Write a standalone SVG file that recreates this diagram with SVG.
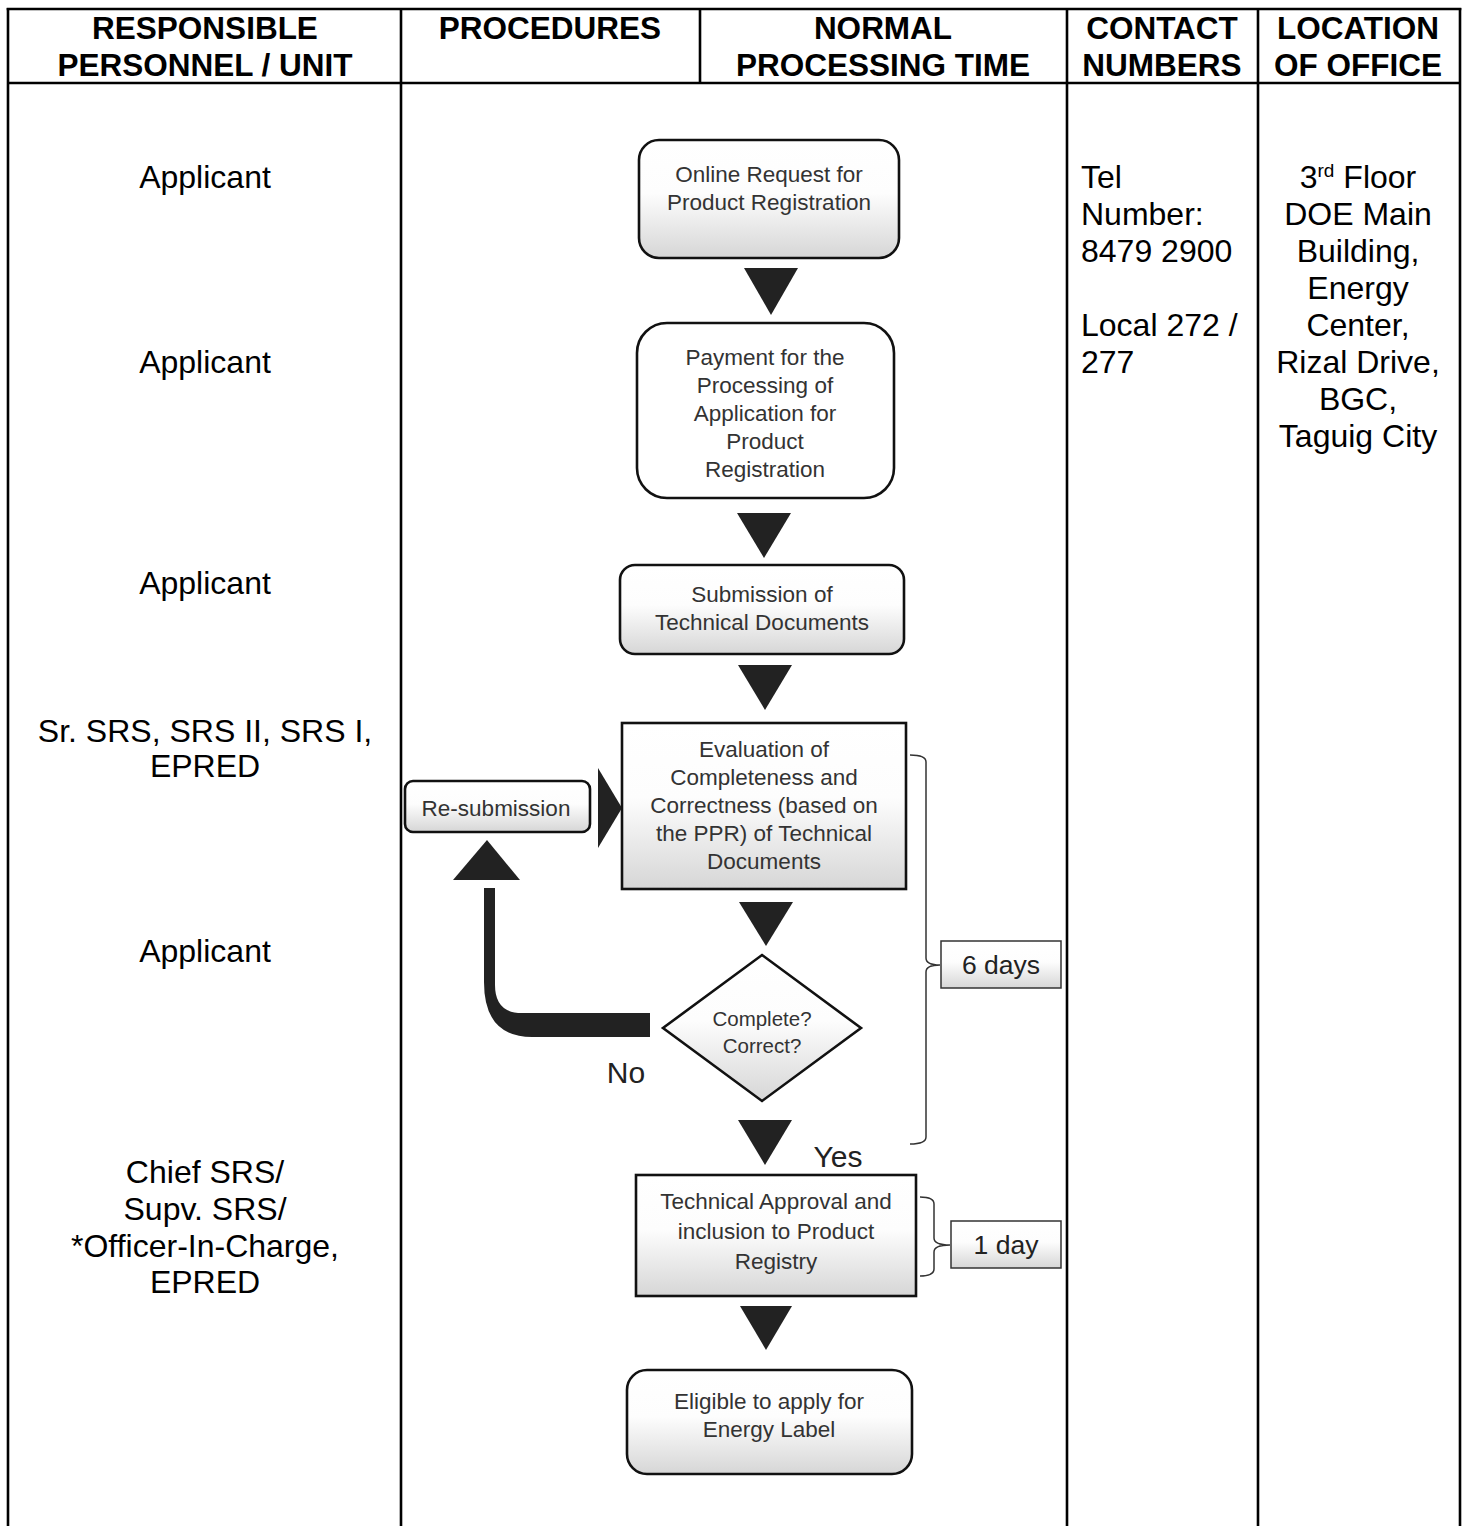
<svg xmlns="http://www.w3.org/2000/svg" width="1465" height="1526" viewBox="0 0 1465 1526">
<defs>
<linearGradient id="g" x1="0" y1="0" x2="0" y2="1">
<stop offset="0" stop-color="#ffffff"/>
<stop offset="0.45" stop-color="#fdfdfd"/>
<stop offset="1" stop-color="#d6d6d6"/>
</linearGradient>
</defs>
<style>
.grid{stroke:#000;stroke-width:2.6;fill:none}
.hd{font-family:"Liberation Sans",Arial,sans-serif;font-weight:bold;font-size:31.5px;fill:#000;text-anchor:middle}
.bd{font-family:"Liberation Sans",Arial,sans-serif;font-size:32px;fill:#000}
.mid{text-anchor:middle}
.box{fill:url(#g);stroke:#111;stroke-width:2.6}
.bt{font-family:"Liberation Sans",Arial,sans-serif;font-size:22.5px;fill:#333;text-anchor:middle}
.arr{fill:#222}
.brk{fill:none;stroke:#333;stroke-width:1.5}
.tbox{fill:url(#g);stroke:#333;stroke-width:1.5}
.tt{font-family:"Liberation Sans",Arial,sans-serif;font-size:26.5px;fill:#222;text-anchor:middle}
.lbl{font-family:"Liberation Sans",Arial,sans-serif;font-size:30px;fill:#222;text-anchor:middle}
</style>
<g id="table">
<line class="grid" x1="6.7" y1="9" x2="1461.3" y2="9"/>
<line class="grid" x1="8" y1="83" x2="1460" y2="83"/>
<line class="grid" x1="8" y1="8" x2="8" y2="1526"/>
<line class="grid" x1="401" y1="8" x2="401" y2="1526"/>
<line class="grid" x1="700" y1="8" x2="700" y2="83"/>
<line class="grid" x1="1067" y1="8" x2="1067" y2="1526"/>
<line class="grid" x1="1258" y1="8" x2="1258" y2="1526"/>
<line class="grid" x1="1460" y1="8" x2="1460" y2="1526"/>
</g>
<g id="headers">
<text class="hd" x="205" y="39">RESPONSIBLE</text>
<text class="hd" x="205" y="76">PERSONNEL / UNIT</text>
<text class="hd" x="550" y="39">PROCEDURES</text>
<text class="hd" x="883" y="39">NORMAL</text>
<text class="hd" x="883" y="76">PROCESSING TIME</text>
<text class="hd" x="1162" y="39">CONTACT</text>
<text class="hd" x="1162" y="76">NUMBERS</text>
<text class="hd" x="1358" y="39">LOCATION</text>
<text class="hd" x="1358" y="76">OF OFFICE</text>
</g>
<g id="personnel">
<text class="bd mid" x="205" y="188">Applicant</text>
<text class="bd mid" x="205" y="373">Applicant</text>
<text class="bd mid" x="205" y="594">Applicant</text>
<text class="bd mid" x="205" y="742">Sr. SRS, SRS II, SRS I,</text>
<text class="bd mid" x="205" y="777">EPRED</text>
<text class="bd mid" x="205" y="962">Applicant</text>
<text class="bd mid" x="205" y="1183">Chief SRS/</text>
<text class="bd mid" x="205" y="1220">Supv. SRS/</text>
<text class="bd mid" x="205" y="1257">*Officer-In-Charge,</text>
<text class="bd mid" x="205" y="1293">EPRED</text>
</g>
<g id="contact">
<text class="bd" x="1081" y="188">Tel</text>
<text class="bd" x="1081" y="225">Number:</text>
<text class="bd" x="1081" y="262">8479 2900</text>
<text class="bd" x="1081" y="336">Local 272 /</text>
<text class="bd" x="1081" y="373">277</text>
</g>
<g id="location">
<text class="bd mid" x="1358" y="188">3<tspan font-size="19" dy="-11">rd</tspan><tspan dy="11"> Floor</tspan></text>
<text class="bd mid" x="1358" y="225">DOE Main</text>
<text class="bd mid" x="1358" y="262">Building,</text>
<text class="bd mid" x="1358" y="299">Energy</text>
<text class="bd mid" x="1358" y="336">Center,</text>
<text class="bd mid" x="1358" y="373">Rizal Drive,</text>
<text class="bd mid" x="1358" y="410">BGC,</text>
<text class="bd mid" x="1358" y="447">Taguig City</text>
</g>
<g id="connectors">
<polygon class="arr" points="744,268 798,268 771,315"/>
<polygon class="arr" points="737,513 791,513 764,558"/>
<polygon class="arr" points="738,665 792,665 765,710"/>
<polygon class="arr" points="739,902 793,902 766,946"/>
<polygon class="arr" points="738,1120 792,1120 765,1165"/>
<polygon class="arr" points="740,1306 792,1306 766,1350"/>
<polygon class="arr" points="598,768 598,848 622,808"/>
<polygon class="arr" points="453,880 520,880 487,840"/>
<path class="arr" d="M484,888 L495,888 L495,985 Q495,1013 522,1013 L650,1013 L650,1037 L532,1037 Q484,1037 484,982 Z"/>
<path class="brk" d="M910,755 Q926,755 926,762 V958 Q926,965 940,965 Q926,965 926,972 V1137 Q926,1144 910,1144"/>
<path class="brk" d="M920,1197 Q934,1197 934,1204 V1238 Q934,1245 950,1245 Q934,1245 934,1252 V1269 Q934,1276 920,1276"/>
<text class="lbl" x="626" y="1083">No</text>
<text class="lbl" x="838" y="1167">Yes</text>
</g>
<g id="n1">
<rect class="box" x="639" y="140" width="260" height="118" rx="20"/>
<text class="bt" x="769" y="182">Online Request for</text>
<text class="bt" x="769" y="210">Product Registration</text>
</g>
<g id="n2">
<rect class="box" x="637" y="323" width="257" height="175" rx="30" style="fill:#fff"/>
<text class="bt" x="765" y="365">Payment for the</text>
<text class="bt" x="765" y="393">Processing of</text>
<text class="bt" x="765" y="421">Application for</text>
<text class="bt" x="765" y="449">Product</text>
<text class="bt" x="765" y="477">Registration</text>
</g>
<g id="n3">
<rect class="box" x="620" y="565" width="284" height="89" rx="15"/>
<text class="bt" x="762" y="602">Submission of</text>
<text class="bt" x="762" y="630">Technical Documents</text>
</g>
<g id="n4">
<rect class="box" x="622" y="723" width="284" height="166"/>
<text class="bt" x="764" y="757">Evaluation of</text>
<text class="bt" x="764" y="785">Completeness and</text>
<text class="bt" x="764" y="813">Correctness (based on</text>
<text class="bt" x="764" y="841">the PPR) of Technical</text>
<text class="bt" x="764" y="869">Documents</text>
</g>
<g id="n5">
<polygon class="box" points="762,955 861,1028 762,1101 663,1028"/>
<text class="bt" x="762" y="1026" style="font-size:20.5px">Complete?</text>
<text class="bt" x="762" y="1053" style="font-size:20.5px">Correct?</text>
</g>
<g id="n6">
<rect class="box" x="636" y="1175" width="280" height="121"/>
<text class="bt" x="776" y="1209">Technical Approval and</text>
<text class="bt" x="776" y="1239">inclusion to Product</text>
<text class="bt" x="776" y="1269">Registry</text>
</g>
<g id="n7">
<rect class="box" x="627" y="1370" width="285" height="104" rx="20"/>
<text class="bt" x="769" y="1409">Eligible to apply for</text>
<text class="bt" x="769" y="1437">Energy Label</text>
</g>
<g id="resubmission">
<rect class="box" x="405" y="781" width="185" height="51" rx="8"/>
<text class="bt" x="496" y="816">Re-submission</text>
</g>
<g id="t6">
<rect class="tbox" x="941" y="941" width="120" height="47"/>
<text class="tt" x="1001" y="974">6 days</text>
</g>
<g id="t1">
<rect class="tbox" x="951" y="1221" width="110" height="47"/>
<text class="tt" x="1006" y="1254">1 day</text>
</g>
</svg>
